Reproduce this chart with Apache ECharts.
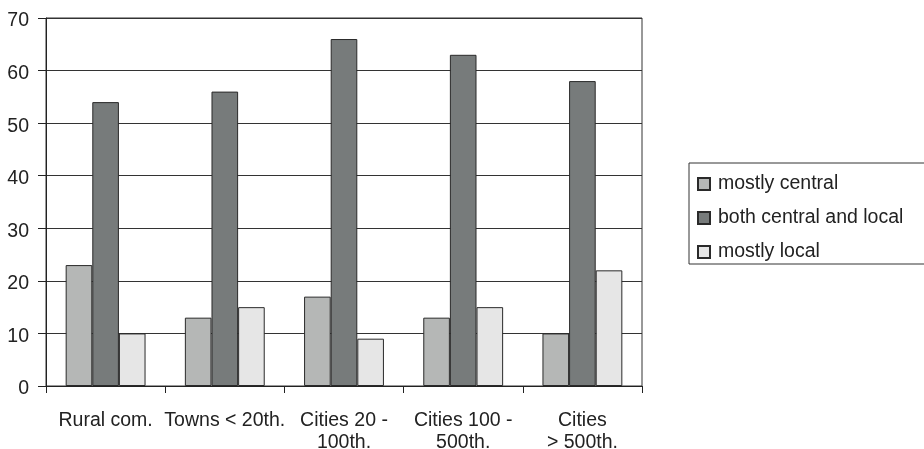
<!DOCTYPE html>
<html>
<head>
<meta charset="utf-8">
<script src="https://cdn.jsdelivr.net/npm/echarts@6/dist/echarts.min.js"></script>
<style>
  html, body { margin: 0; padding: 0; background: #fff; }
  #chart { width: 924px; height: 449px; }
</style>
</head>
<body>
<div id="chart"></div>
<script>
const categories = ["Rural com.", "Towns < 20th.", "Cities 20 -\n100th.", "Cities 100 -\n500th.", "Cities\n> 500th."];
const mostlyCentral = [23, 13, 17, 13, 10];
const bothCentralLocal = [54, 56, 66, 63, 58];
const mostlyLocal = [10, 15, 9, 15, 22];

const font = "'Liberation Sans', Arial, sans-serif";
const ink = "#222";

const chart = echarts.init(document.getElementById("chart"));

const barStyle = (color) => ({
  color: color,
  borderColor: "#2a2a2a",
  borderWidth: 1
});

chart.setOption({
  animation: false,
  textStyle: { fontFamily: font },
  grid: {
    left: 46,
    right: 282,
    top: 18,
    bottom: 63,
    outerBoundsMode: "none",
    containLabel: false,
    show: true,
    borderColor: "#333",
    borderWidth: 1
  },
  graphic: [
    {
      type: "rect",
      shape: { x: 689, y: 163, width: 240, height: 101 },
      style: { fill: "#fff", stroke: "#333", lineWidth: 1 },
      z: -1
    }
  ],
  legend: {
    orient: "vertical",
    left: 697,
    top: 174,
    padding: 0,
    itemWidth: 12,
    itemHeight: 12,
    itemGap: 14,
    icon: "rect",
    textStyle: { fontFamily: font, fontSize: 19.5, color: ink, padding: [0, 0, 0, 3] },
    data: ["mostly central", "both central and local", "mostly local"]
  },
  xAxis: {
    type: "category",
    data: categories,
    axisLine: { lineStyle: { color: ink, width: 1 } },
    axisTick: { show: true, length: 7, lineStyle: { color: ink } },
    axisLabel: {
      fontFamily: font,
      fontSize: 19.5,
      color: ink,
      margin: 24,
      lineHeight: 22,
      interval: 0
    }
  },
  yAxis: {
    type: "value",
    min: 0,
    max: 70,
    interval: 10,
    axisLine: { show: true, lineStyle: { color: ink, width: 1 } },
    axisTick: { show: true, length: 8, lineStyle: { color: ink } },
    axisLabel: {
      margin: 17,
      formatter: "{v|{value}}",
      rich: {
        v: { fontFamily: font, fontSize: 19.5, color: ink, padding: [6, 0, 0, 0] }
      }
    },
    splitLine: { show: true, lineStyle: { color: "#333", width: 1 } }
  },
  series: [
    {
      name: "mostly central",
      type: "bar",
      data: mostlyCentral,
      barGap: 0,
      barCategoryGap: "33%",
      itemStyle: barStyle("#b5b7b6")
    },
    {
      name: "both central and local",
      type: "bar",
      data: bothCentralLocal,
      barGap: 0,
      barCategoryGap: "33%",
      itemStyle: barStyle("#777b7b")
    },
    {
      name: "mostly local",
      type: "bar",
      data: mostlyLocal,
      barGap: 0,
      barCategoryGap: "33%",
      itemStyle: barStyle("#e6e6e6")
    }
  ]
});
</script>
</body>
</html>
